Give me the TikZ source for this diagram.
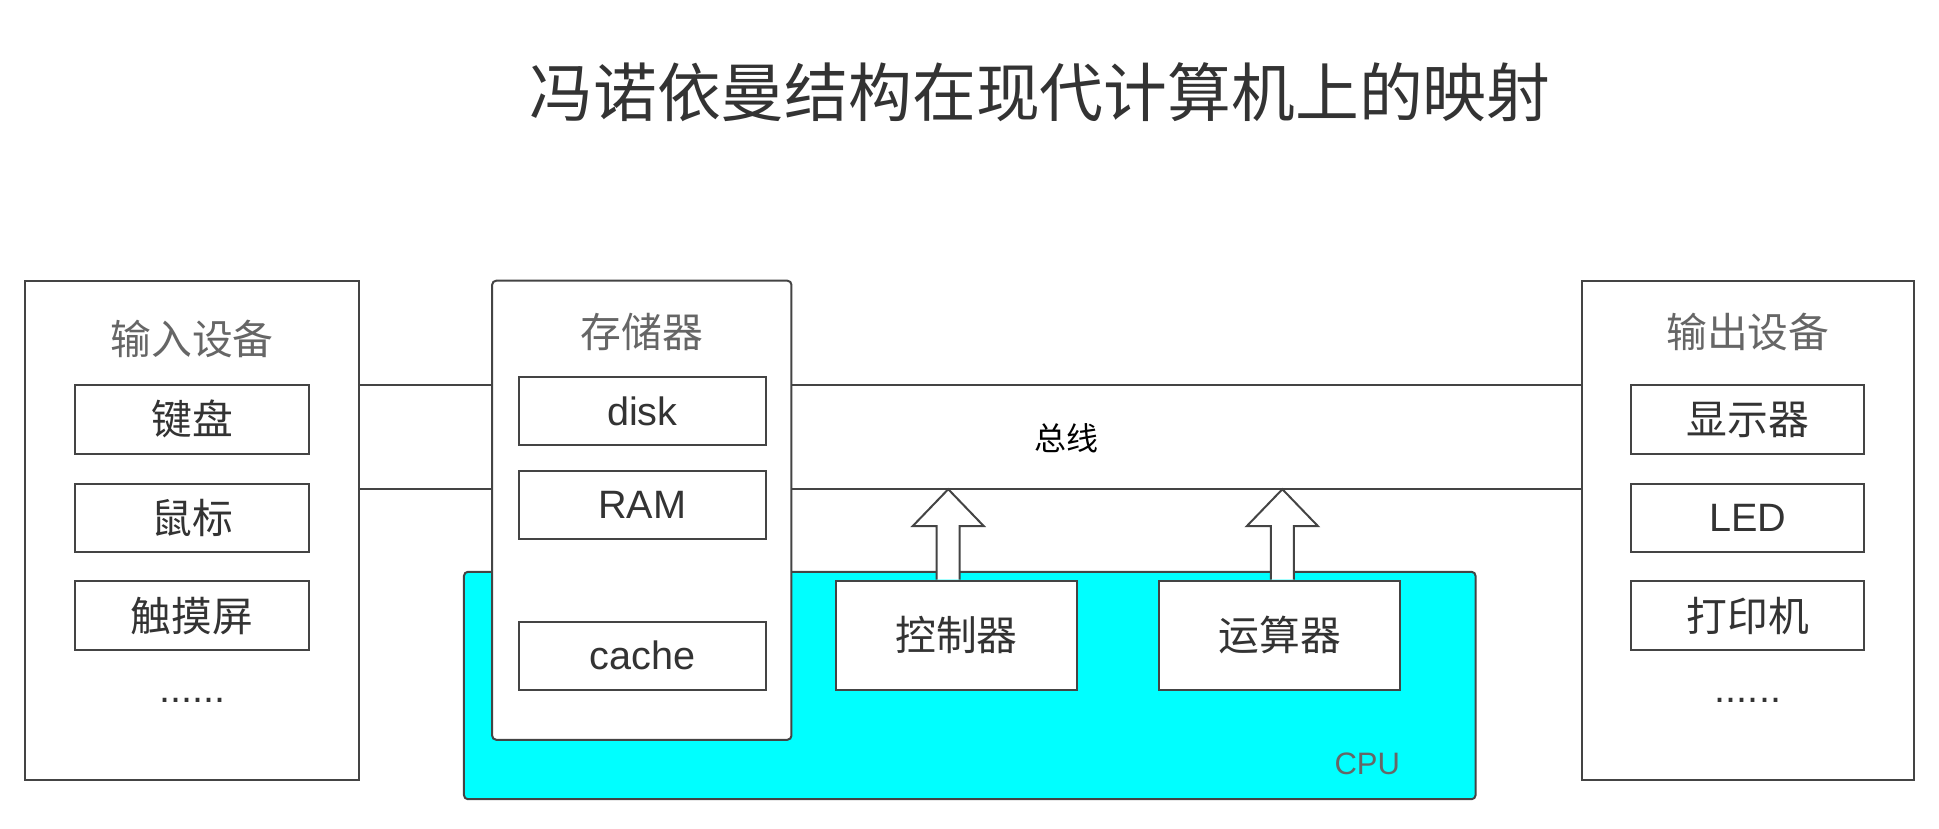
\documentclass[tikz,border=0pt]{standalone}
\usepackage{fontspec}
\setmainfont{Liberation Sans}
\newfontfamily\cjk{Noto Sans CJK SC}
\usetikzlibrary{calc}
\definecolor{cyanfill}{HTML}{00FFFF}
\definecolor{linec}{HTML}{444444}
\definecolor{txt}{HTML}{333333}
\definecolor{gtxt}{HTML}{666666}
\newlength\ux
\setlength\ux{0.6183pt}
\begin{document}
\begin{tikzpicture}[x=0.6183pt,y=-0.6183pt,
  line width=1pt,
  outerbox/.style={draw=linec, fill=white, inner sep=0pt, minimum width=#1},
  itembox/.style={draw=linec, fill=white, inner sep=0pt, text=txt},
  cjkitem/.style={font=\cjk\fontsize{20.4pt}{24pt}\selectfont},
  latitem/.style={font=\fontsize{19.8pt}{24pt}\selectfont},
  grouptitle/.style={text=gtxt, font=\cjk\fontsize{20.4pt}{24pt}\selectfont, inner sep=0pt},
  dotstext/.style={text=txt, font=\fontsize{19.8pt}{24pt}\selectfont, inner sep=0pt, anchor=base},
  busline/.style={draw=linec},
  arrowshape/.style={draw=linec, fill=white, line join=miter}
]
\useasboundingbox (0,0) rectangle (1568,669.6);

% title
\node[text=txt, font=\cjk\fontsize{31.9pt}{36pt}\selectfont, inner sep=0pt] (title) at (841,74.5) {冯诺依曼结构在现代计算机上的映射};

% CPU
\node[draw=linec, fill=cyanfill, rounded corners=2pt, inner sep=0pt,
      minimum width=818\ux, minimum height=183.9\ux] (cpu) at (784.2,554.35) {};
\node[text=gtxt, font=\fontsize{15.5pt}{18pt}\selectfont, inner sep=0pt] (cpulabel) at (1105.7,617.8) {CPU};

% input devices
\node[outerbox=270.5\ux, minimum height=403.4\ux] (inbox) at (155.25,428.7) {};
\node[grouptitle] (intitle) at (155.3,274.5) {输入设备};
\node[itembox, cjkitem, minimum width=188.6\ux, minimum height=56\ux] (kbd) at (155.3,339) {键盘};
\node[itembox, cjkitem, minimum width=188.6\ux, minimum height=55.3\ux] (mouse) at (155.3,419) {鼠标};
\node[itembox, cjkitem, minimum width=188.6\ux, minimum height=56.4\ux] (touch) at (155.3,497.8) {触摸屏};
\node[dotstext] (indots) at (155.3,568) {......};

% memory
\node[draw=linec, fill=white, rounded corners=2pt, inner sep=0pt,
      minimum width=242\ux, minimum height=371.2\ux] (mem) at (519,412.6) {};
\node[grouptitle] (memtitle) at (519,268.7) {存储器};
\node[itembox, latitem, minimum width=199.7\ux, minimum height=55.5\ux] (disk) at (519.4,332.5) {disk};
\node[itembox, latitem, minimum width=199.7\ux, minimum height=55.2\ux] (ram) at (519.4,408.6) {RAM};
\node[itembox, latitem, minimum width=199.7\ux, minimum height=55.2\ux] (cache) at (519.4,530.3) {cache};

% output devices
\node[outerbox=269\ux, minimum height=403.4\ux] (outbox) at (1413.5,428.7) {};
\node[grouptitle] (outtitle) at (1413.5,268.7) {输出设备};
\node[itembox, cjkitem, minimum width=188.4\ux, minimum height=56\ux] (disp) at (1413.5,339.2) {显示器};
\node[itembox, latitem, minimum width=188.4\ux, minimum height=55.3\ux] (led) at (1413.5,419) {LED};
\node[itembox, cjkitem, minimum width=188.4\ux, minimum height=56.4\ux] (printer) at (1413.5,497.8) {打印机};
\node[dotstext] (outdots) at (1413.5,568) {......};

% bus
\coordinate (busT) at (0,311.3);
\coordinate (busB) at (0,395.6);
\draw[busline] (inbox.east |- busT) -- (mem.west |- busT);
\draw[busline] (inbox.east |- busB) -- (mem.west |- busB);
\draw[busline] (mem.east |- busT) -- (outbox.west |- busT);
\draw[busline] (mem.east |- busB) -- (outbox.west |- busB);
\node[text=black, font=\cjk\fontsize{16pt}{19pt}\selectfont, inner sep=0pt] (buslabel) at (862.5,354.4) {总线};

% control unit and ALU
\node[itembox, cjkitem, minimum width=195.6\ux, minimum height=88.4\ux] (ctrl) at (773.5,513.8) {控制器};
\node[itembox, cjkitem, minimum width=194.5\ux, minimum height=88.4\ux] (alu) at (1034.85,513.8) {运算器};

% hollow arrows from units to bus
\foreach \n/\cx in {ctrl/766.8, alu/1037}{
  \draw[arrowshape] (\n.north -| \cx-9.3,0) -- (\cx-9.3,425.5) -- (\cx-28.8,425.5)
     -- (busB -| \cx,0) -- (\cx+28.8,425.5) -- (\cx+9.3,425.5) -- (\n.north -| \cx+9.3,0);
}
\end{tikzpicture}
\end{document}
